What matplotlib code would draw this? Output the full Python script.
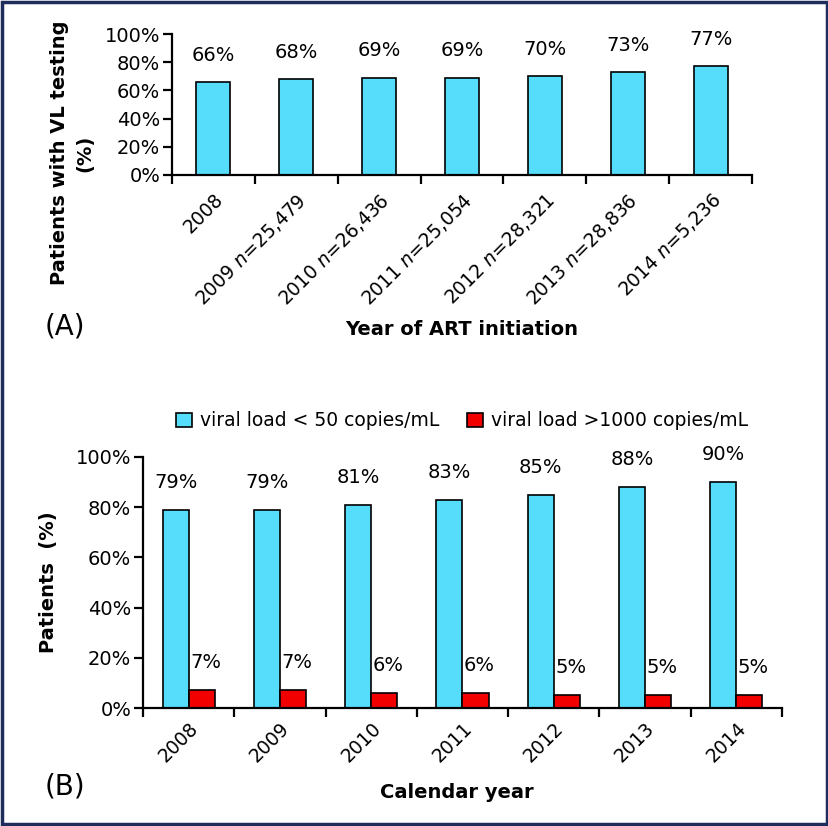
import matplotlib
matplotlib.use('Agg')
import matplotlib.pyplot as plt
import numpy as np
from matplotlib.patches import Patch, Rectangle
from matplotlib.ticker import PercentFormatter

# panel A
years_a = ['2008', r'2009 $n$=25,479', r'2010 $n$=26,436', r'2011 $n$=25,054',
           r'2012 $n$=28,321', r'2013 $n$=28,836', r'2014 $n$=5,236']
vl_testing = [66, 68, 69, 69, 70, 73, 77]

# panel B
years_b = ['2008', '2009', '2010', '2011', '2012', '2013', '2014']
vl_below50 = [79, 79, 81, 83, 85, 88, 90]
vl_above1000 = [7, 7, 6, 6, 5, 5, 5]
legend_labels = ['viral load < 50 copies/mL', 'viral load >1000 copies/mL']

cyan = '#55ddfb'
red = '#f20000'
navy = '#1f2d5c'
W, H = 829, 826

def style_axis(ax, n):
    for s in ['top', 'right']:
        ax.spines[s].set_visible(False)
    for s in ['left', 'bottom']:
        ax.spines[s].set_linewidth(1.6)
    ax.set_xlim(-0.5, n - 0.5)
    ax.set_ylim(0, 100)
    ax.set_yticks(np.arange(0, 101, 20))
    ax.yaxis.set_major_formatter(PercentFormatter(decimals=0))
    ax.tick_params(axis='y', direction='out', length=6.5, width=1.6, labelsize=14, pad=2)
    ax.set_xticks(np.arange(n))
    ax.set_xticks(np.arange(n + 1) - 0.5, minor=True)
    ax.tick_params(axis='x', which='major', length=0, labelsize=13.5)
    ax.tick_params(axis='x', which='minor', direction='out', length=6.5, width=1.6)

fig = plt.figure(figsize=(W / 100, H / 100), dpi=100)

# (A)
ax1 = fig.add_axes([172 / W, 1 - 175 / H, 580 / W, 141 / H])
x = np.arange(len(vl_testing))
ax1.bar(x, vl_testing, width=0.41, color=cyan, edgecolor='black', linewidth=1.2, zorder=2)
for xi, v in zip(x, vl_testing):
    ax1.text(xi, v + 19, f'{v}%', ha='center', va='center', fontsize=14)
style_axis(ax1, len(vl_testing))
ax1.set_xticklabels(years_a, rotation=45, ha='right', va='top', rotation_mode='anchor')
ax1.tick_params(axis='x', which='major', pad=11)

fig.text(72 / W, 1 - 153 / H, 'Patients with VL testing\n(%)', rotation=90,
         ha='center', va='center', ma='center', fontsize=14, fontweight='bold', linespacing=1.45)
fig.text(462 / W, 1 - 330 / H, 'Year of ART initiation', ha='center', va='center',
         fontsize=14, fontweight='bold')
fig.text(45 / W, 1 - 326 / H, '(A)', ha='left', va='center', fontsize=20)

# (B)
ax2 = fig.add_axes([143 / W, 1 - 708 / H, 639 / W, 251 / H])
x = np.arange(len(vl_below50))
bw = 0.285
ax2.bar(x - bw / 2, vl_below50, width=bw, color=cyan, edgecolor='black', linewidth=1.2, zorder=2)
ax2.bar(x + bw / 2, vl_above1000, width=bw, color=red, edgecolor='black', linewidth=1.2, zorder=2)
for xi, v in zip(x, vl_below50):
    ax2.text(xi - bw / 2, v + 11, f'{v}%', ha='center', va='center', fontsize=14)
for xi, v in zip(x, vl_above1000):
    ax2.text(xi + bw / 2 + 0.045, v + 11, f'{v}%', ha='center', va='center', fontsize=14)
style_axis(ax2, len(vl_below50))
ax2.set_xticklabels(years_b, rotation=45, ha='right', va='top', rotation_mode='anchor')
ax2.tick_params(axis='x', which='major', pad=8)
ax2.set_ylabel('Patients  (%)', fontsize=14, fontweight='bold')
ax2.yaxis.set_label_coords(-(143 - 58) / 639, 0.5)

fig.text(457 / W, 1 - 792 / H, 'Calendar year', ha='center', va='center',
         fontsize=14, fontweight='bold')
fig.text(45 / W, 1 - 787 / H, '(B)', ha='left', va='center', fontsize=20)

handles = [Patch(facecolor=cyan, edgecolor='black', linewidth=1.2),
           Patch(facecolor=red, edgecolor='black', linewidth=1.2)]
fig.legend(handles, legend_labels, loc='center', bbox_to_anchor=(462 / W, 1 - 421 / H),
           ncol=2, frameon=False, fontsize=13.5, handlelength=0.85, handleheight=0.85,
           handletextpad=0.4, columnspacing=1.5)

# border around the whole figure
fig.patches.append(Rectangle((0.002, 0.002), 0.996, 0.996, transform=fig.transFigure,
                             fill=False, edgecolor=navy, linewidth=2.5))

fig.savefig('out.png', dpi=100)
